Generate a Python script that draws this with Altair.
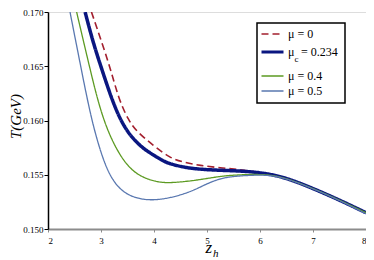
import altair as alt
import pandas as pd

# ---- data ----
z_mu0 = [2.82, 3.17, 3.33, 3.52, 3.67, 3.99, 4.30, 4.55, 4.87, 5.25, 5.62, 6.0, 6.38, 6.94, 7.51, 8.0]
T_mu0 = [0.170, 0.165, 0.1620, 0.160, 0.1590, 0.15768, 0.15655, 0.15615, 0.15585, 0.15564, 0.15548, 0.1552, 0.15493, 0.15387, 0.15265, 0.1515]

z_muc = [2.70, 2.85, 3.01, 3.20, 3.37, 3.55, 3.74, 3.86, 4.18, 4.30, 4.68, 5.25, 5.81, 6.38, 6.94, 7.51, 8.0]
T_muc = [0.170, 0.1672, 0.1648, 0.1620, 0.1600, 0.1586, 0.15768, 0.1572, 0.15625, 0.1560, 0.15555, 0.1554, 0.15533, 0.15493, 0.15387, 0.15265, 0.1515]

z_mu04 = [2.54, 2.78, 3.03, 3.36, 3.67, 4.05, 4.30, 4.80, 5.25, 5.60, 6.0, 6.38, 6.94, 7.51, 8.0]
T_mu04 = [0.170, 0.165, 0.160, 0.1566, 0.15493, 0.15432, 0.15423, 0.15448, 0.15487, 0.1550, 0.15505, 0.15490, 0.15387, 0.15265, 0.1515]

z_mu05 = [2.415, 2.617, 2.82, 3.04, 3.23, 3.48, 3.86, 4.27, 4.68, 4.87, 5.25, 5.62, 6.0, 6.38, 6.94, 7.51, 8.0]
T_mu05 = [0.170, 0.165, 0.160, 0.1563, 0.15432, 0.15311, 0.15259, 0.1528, 0.15341, 0.15387, 0.15472, 0.1549, 0.1550, 0.15488, 0.15385, 0.15263, 0.1514]

x_ticks = [2, 3, 4, 5, 6, 7, 8]
y_ticks = [0.150, 0.155, 0.160, 0.165, 0.170]

series = [
    ("μ = 0", z_mu0, T_mu0),
    ("μc = 0.234", z_muc, T_muc),
    ("μ = 0.4", z_mu04, T_mu04),
    ("μ = 0.5", z_mu05, T_mu05),
]

# ---- styles ----
styles = {
    "μ = 0": dict(color="#a31f2e", strokeWidth=1.6, strokeDash=[7, 4]),
    "μc = 0.234": dict(color="#0a1680", strokeWidth=3.5, strokeDash=[1, 0]),
    "μ = 0.4": dict(color="#5c9a22", strokeWidth=1.3, strokeDash=[1, 0]),
    "μ = 0.5": dict(color="#5a78b0", strokeWidth=1.3, strokeDash=[1, 0]),
}

SERIF = "Liberation Serif, Times New Roman, serif"
W, H = 318, 217

xscale = alt.Scale(domain=[2, 8], nice=False, zero=False)
yscale = alt.Scale(domain=[0.150, 0.170], nice=False, zero=False)

layers = []
first = True
for name, zs, ts in series:
    df = pd.DataFrame({"z": zs, "T": ts})
    st = styles[name]
    if first:
        xenc = alt.X("z:Q", scale=xscale, axis=alt.Axis(
            values=x_ticks, format="d", title=None, grid=False,
            domainColor="#8c8c8c", domainWidth=2, tickColor="#8c8c8c", tickSize=3,
            labelFont=SERIF, labelFontSize=9, labelColor="black", labelPadding=4))
        yenc = alt.Y("T:Q", scale=yscale, axis=alt.Axis(
            values=y_ticks, format=".3f", title="T(GeV)", grid=False,
            domainColor="black", domainWidth=1.5, tickColor="black", tickSize=4,
            labelFont=SERIF, labelFontSize=9, labelColor="black", labelPadding=1,
            titleFont=SERIF, titleFontSize=15, titleFontStyle="italic", titleFontWeight="normal",
            titleColor="black", titleAngle=270, titleX=-33, titleY=104,
            titleAlign="center", titleBaseline="middle"))
        first = False
    else:
        xenc = alt.X("z:Q", scale=xscale)
        yenc = alt.Y("T:Q", scale=yscale)
    layers.append(
        alt.Chart(df).mark_line(clip=True, interpolate="basis", color=st["color"],
                                strokeWidth=st["strokeWidth"], strokeDash=st["strokeDash"])
        .encode(x=xenc, y=yenc, order="z:Q")
    )

# ---- legend (drawn manually) ----
one = pd.DataFrame({"a": [0]})
layers.append(
    alt.Chart(one).mark_rect(fill="white", stroke="black", strokeWidth=1.5)
    .encode(x=alt.value(209), x2=alt.value(297), y=alt.value(11), y2=alt.value(91))
)
leg_y = [22, 40, 64, 79]
for (name, _, _), ly in zip(series, leg_y):
    st = styles[name]
    layers.append(
        alt.Chart(one).mark_rule(color=st["color"], strokeWidth=st["strokeWidth"] if name != "μc = 0.234" else 3.2,
                                 strokeDash=st["strokeDash"])
        .encode(x=alt.value(213.5), x2=alt.value(235.5), y=alt.value(ly))
    )
    if name == "μc = 0.234":
        parts = [("μ", 240, ly, 12), ("c", 246.5, ly + 7, 9), ("= 0.234", 253, ly, 12)]
    else:
        parts = [(name, 240, ly, 12)]
    for txt, tx, ty, fs in parts:
        layers.append(
            alt.Chart(one).mark_text(align="left", baseline="middle", font=SERIF, fontSize=fs, color="black")
            .encode(x=alt.value(tx), y=alt.value(ty), text=alt.value(txt))
        )

# ---- x title z_h ----
layers.append(
    alt.Chart(one).mark_text(align="right", baseline="middle", font=SERIF, fontSize=17,
                             fontStyle="italic", color="black")
    .encode(x=alt.value(164), y=alt.value(236), text=alt.value("z"))
)
layers.append(
    alt.Chart(one).mark_text(align="left", baseline="middle", font=SERIF, fontSize=11,
                             fontStyle="italic", color="black")
    .encode(x=alt.value(165), y=alt.value(242), text=alt.value("h"))
)

chart = alt.layer(*layers).properties(
    width=W, height=H,
    autosize=alt.AutoSizeParams(type="none"),
    padding={"left": 40, "top": 4, "right": 0, "bottom": 30},
).configure_view(stroke=None).configure(background="white")

chart.save("out.html", embed_options={"renderer": "svg", "actions": False})
